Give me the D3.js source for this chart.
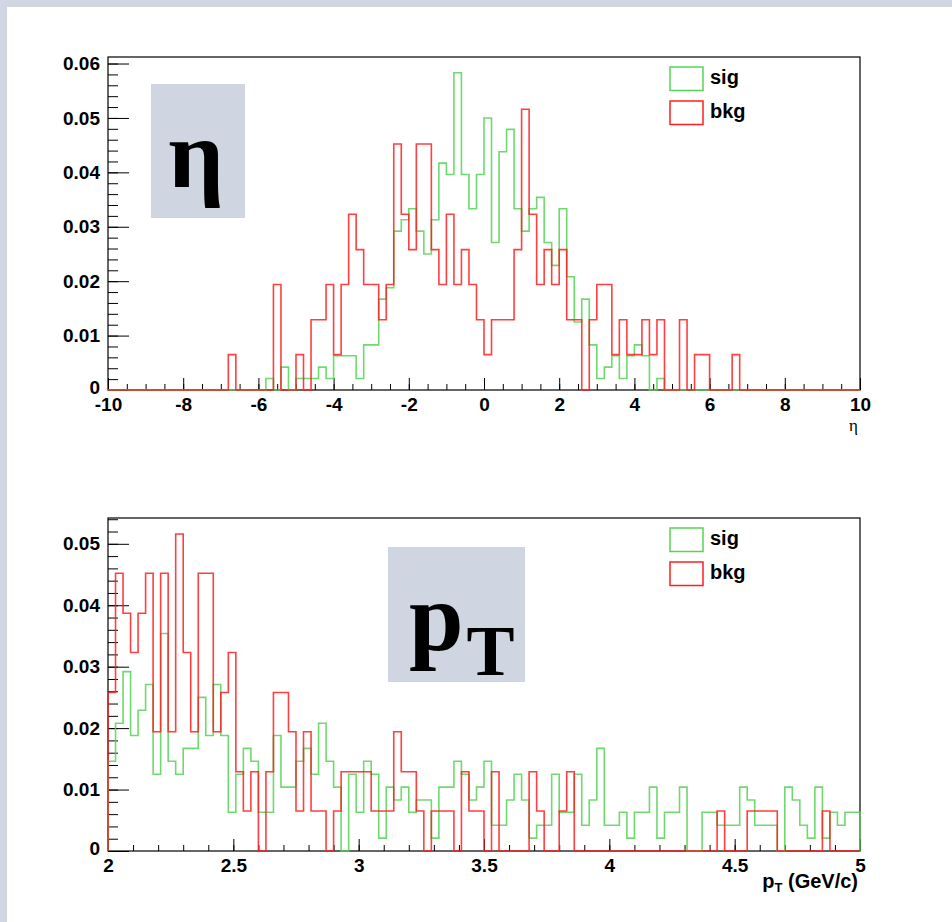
<!DOCTYPE html>
<html>
<head>
  <title>sig / bkg eta and pT</title>
  <script src="https://d3js.org/d3.v7.min.js"></script>
  <style>
    body { margin: 0; background: #fff; }
    text { font-family: "Liberation Sans", Arial, Helvetica, sans-serif; }
  </style>
</head>
<body>
  <div id="chart"></div>
  <script>
    // histogram binning: 100 bins each
    const etaRange = [-10, 10];
    const ptRange = [2, 5];
    const nBins = 100;

    // normalised bin contents
    const etaSig = [
      0, 0, 0, 0, 0, 0, 0, 0, 0, 0,
      0, 0, 0, 0, 0, 0, 0, 0, 0, 0,
      0, 0.0021, 0, 0.0042, 0, 0.0021, 0.0021, 0.0021, 0.0042, 0.0021,
      0.0063, 0.0063, 0.0063, 0.0021, 0.0083, 0.0083, 0.0167, 0.0188, 0.0292, 0.0313,
      0.0333, 0.0292, 0.025, 0.0313, 0.0417, 0.0396, 0.0583, 0.0396, 0.0333, 0.0396,
      0.05, 0.0271, 0.0438, 0.0479, 0.0333, 0.0292, 0.0333, 0.0354, 0.0271, 0.0229,
      0.0333, 0.0208, 0.0125, 0.0167, 0.0083, 0.0021, 0.0042, 0.0063, 0.0021, 0.0063,
      0.0083, 0.0063, 0, 0.0021, 0, 0, 0, 0, 0, 0,
      0, 0, 0, 0, 0, 0, 0, 0, 0, 0,
      0, 0, 0, 0, 0, 0, 0, 0, 0, 0
    ];
    const etaBkg = [
      0, 0, 0, 0, 0, 0, 0, 0, 0, 0,
      0, 0, 0, 0, 0, 0, 0.0065, 0, 0, 0,
      0, 0, 0.0194, 0, 0, 0.0065, 0, 0.0129, 0.0129, 0.0194,
      0.0065, 0.0194, 0.0323, 0.0258, 0.0194, 0.0194, 0.0129, 0.0194, 0.0452, 0.0323,
      0.0258, 0.0452, 0.0452, 0.0258, 0.0194, 0.0323, 0.0194, 0.0258, 0.0194, 0.0129,
      0.0065, 0.0129, 0.0129, 0.0129, 0.0258, 0.0516, 0.0323, 0.0194, 0.0258, 0.0194,
      0.0258, 0.0129, 0.0129, 0, 0.0129, 0.0194, 0.0194, 0.0065, 0.0129, 0.0065,
      0.0065, 0.0129, 0.0065, 0.0129, 0, 0, 0.0129, 0, 0.0065, 0.0065,
      0, 0, 0, 0.0065, 0, 0, 0, 0, 0, 0,
      0, 0, 0, 0, 0, 0, 0, 0, 0, 0
    ];
    const ptSig = [
      0.0146, 0.0208, 0.0292, 0.0188, 0.0229, 0.0271, 0.0125, 0.0354, 0.0146, 0.0125,
      0.0167, 0.0167, 0.025, 0.0188, 0.0271, 0.0188, 0.0063, 0.0125, 0.0167, 0.0146,
      0.0063, 0.0063, 0.0188, 0.0104, 0.0104, 0.0146, 0.0167, 0.0125, 0.0208, 0.0146,
      0.0104, 0, 0.0125, 0.0063, 0.0146, 0.0125, 0.0021, 0.0104, 0.0083, 0.0104,
      0.0063, 0.0083, 0.0083, 0.0021, 0.0104, 0.0104, 0.0146, 0.0125, 0.0083, 0.0104,
      0.0146, 0.0042, 0.0042, 0.0083, 0.0125, 0.0083, 0.0021, 0.0042, 0.0042, 0.0125,
      0.0063, 0.0063, 0.0125, 0.0042, 0.0083, 0.0167, 0.0042, 0.0042, 0.0063, 0.0021,
      0.0063, 0.0063, 0.0104, 0.0021, 0.0063, 0.0063, 0.0104, 0, 0, 0.0063,
      0.0063, 0.0042, 0.0042, 0.0042, 0.0104, 0.0083, 0.0042, 0.0042, 0.0042, 0,
      0.0104, 0.0083, 0.0042, 0.0021, 0.0104, 0.0021, 0.0063, 0.0042, 0.0063, 0.0063
    ];
    const ptBkg = [
      0.0258, 0.0452, 0.0387, 0.0323, 0.0387, 0.0452, 0.0194, 0.0452, 0.0194, 0.0516,
      0.0323, 0.0194, 0.0452, 0.0452, 0.0194, 0.0258, 0.0323, 0.0129, 0.0065, 0.0129,
      0, 0.0129, 0.0258, 0.0258, 0.0194, 0.0065, 0.0194, 0.0065, 0.0065, 0,
      0.0065, 0.0129, 0.0129, 0.0129, 0.0129, 0.0065, 0.0065, 0.0065, 0.0194, 0.0129,
      0.0129, 0.0065, 0, 0.0065, 0.0065, 0.0065, 0, 0.0129, 0.0065, 0.0065,
      0, 0.0129, 0, 0, 0, 0, 0.0129, 0.0065, 0, 0,
      0.0065, 0.0129, 0, 0, 0, 0, 0, 0, 0, 0,
      0, 0, 0, 0, 0, 0, 0, 0, 0, 0,
      0, 0.0065, 0, 0, 0, 0.0065, 0.0065, 0.0065, 0.0065, 0,
      0, 0, 0, 0, 0, 0.0065, 0, 0, 0, 0
    ];

    const etaMajor = [-10, -8, -6, -4, -2, 0, 2, 4, 6, 8, 10];
    const ptMajor = [2, 2.5, 3, 3.5, 4, 4.5, 5];
    const etaYMajor = [0, 0.01, 0.02, 0.03, 0.04, 0.05, 0.06];
    const ptYMajor = [0, 0.01, 0.02, 0.03, 0.04, 0.05];
    const legendLabels = ["sig", "bkg"];
    const colors = { sig: "#55d455", bkg: "#ff1f1f" };

    const width = 952, height = 922;
    const svg = d3.select("#chart").append("svg")
      .attr("width", width)
      .attr("height", height);

    // canvas edge
    svg.append("rect").attr("width", width).attr("height", height).attr("fill", "#d0d7e2");
    svg.append("rect").attr("x", 7).attr("y", 7).attr("width", width - 7).attr("height", height - 7).attr("fill", "#fff");

    function drawPanel(opt) {
      const g = svg.append("g");
      const x = d3.scaleLinear().domain(opt.xRange).range([108, 860]);
      const y = d3.scaleLinear().domain([0, opt.yMax]).range([opt.bottom, opt.top]);

      // big label box
      g.append("rect")
        .attr("x", opt.box[0]).attr("y", opt.box[1])
        .attr("width", opt.box[2]).attr("height", opt.box[3])
        .attr("fill", "#cfd6e1");
      opt.drawLabel(g);

      // minor ticks
      g.append("g")
        .attr("transform", `translate(0,${opt.bottom})`)
        .call(d3.axisBottom(x).ticks(opt.xMinorCount).tickSize(-6).tickFormat(""))
        .call(a => a.select(".domain").remove());
      g.append("g")
        .attr("transform", "translate(108,0)")
        .call(d3.axisLeft(y).tickValues(d3.range(0, opt.yMax, 0.002)).tickSize(-10).tickFormat(""))
        .call(a => a.select(".domain").remove());

      // major ticks + labels
      const xa = g.append("g")
        .attr("transform", `translate(0,${opt.bottom})`)
        .call(d3.axisBottom(x).tickValues(opt.xMajor).tickSize(-12).tickPadding(8).tickFormat(d => String(d)));
      const ya = g.append("g")
        .attr("transform", "translate(108,0)")
        .call(d3.axisLeft(y).tickValues(opt.yMajor).tickSize(-21).tickPadding(8)
          .tickFormat(d => d === 0 ? "0" : d.toFixed(2)));
      [xa, ya].forEach(a => {
        a.select(".domain").remove();
        a.selectAll("text").attr("font-size", 19).attr("font-weight", "bold").attr("fill", "#000")
          .style("font-family", "'Liberation Sans', Arial, Helvetica, sans-serif");
      });
      // lift the y "0" a touch so it clears the x labels
      ya.selectAll("text").filter(d => d === 0).attr("dy", "0.2em");
      g.selectAll(".tick line").attr("stroke", "#000");

      // frame
      g.append("rect")
        .attr("x", 108).attr("y", opt.top)
        .attr("width", 752).attr("height", opt.bottom - opt.top)
        .attr("fill", "none").attr("stroke", "#000").attr("stroke-width", 1.2);

      // histograms
      const binW = (opt.xRange[1] - opt.xRange[0]) / nBins;
      const line = d3.line().x(d => x(d[0])).y(d => y(d[1]));
      function steps(vals) {
        const pts = [[opt.xRange[0], 0]];
        vals.forEach((v, i) => {
          pts.push([opt.xRange[0] + i * binW, v]);
          pts.push([opt.xRange[0] + (i + 1) * binW, v]);
        });
        pts.push([opt.xRange[1], 0]);
        return pts;
      }
      g.append("path").attr("d", line(steps(opt.sig)))
        .attr("fill", "none").attr("stroke", colors.sig).attr("stroke-width", 1.6).attr("stroke-opacity", 0.85);
      g.append("path").attr("d", line(steps(opt.bkg)))
        .attr("fill", "none").attr("stroke", colors.bkg).attr("stroke-width", 1.6).attr("stroke-opacity", 0.85);

      // legend
      legendLabels.forEach((lab, i) => {
        const ly = opt.legendTop + i * 34;
        g.append("rect")
          .attr("x", 670).attr("y", ly).attr("width", 33).attr("height", 23.5)
          .attr("fill", "#fff").attr("stroke", colors[lab]).attr("stroke-width", 1.5);
        g.append("text")
          .attr("x", 710).attr("y", ly + 17)
          .attr("font-size", 20).attr("font-weight", "bold")
          .text(lab);
      });

      opt.drawTitle(g);
    }

    drawPanel({
      xRange: etaRange, yMax: 0.0612, top: 57, bottom: 390,
      sig: etaSig, bkg: etaBkg,
      xMajor: etaMajor, xMinorCount: 40, yMajor: etaYMajor,
      legendTop: 67,
      box: [151, 84, 94, 134],
      drawLabel: g => g.append("text")
        .attr("x", 196).attr("y", 187)
        .attr("text-anchor", "middle")
        .style("font-family", "'Liberation Serif', 'Times New Roman', serif")
        .attr("font-weight", "bold").attr("font-size", 98)
        .text("η"),
      drawTitle: g => g.append("text")
        .attr("x", 858).attr("y", 431)
        .attr("text-anchor", "end")
        .style("font-family", "'Liberation Serif', 'Times New Roman', serif")
        .attr("font-size", 17)
        .text("η")
    });

    drawPanel({
      xRange: ptRange, yMax: 0.0542, top: 518, bottom: 851,
      sig: ptSig, bkg: ptBkg,
      xMajor: ptMajor, xMinorCount: 30, yMajor: ptYMajor,
      legendTop: 528,
      box: [388, 547, 137, 135],
      drawLabel: g => {
        const t = g.append("text")
          .attr("x", 409).attr("y", 650)
          .style("font-family", "'Liberation Serif', 'Times New Roman', serif")
          .attr("font-weight", "bold").attr("font-size", 98);
        t.append("tspan").text("p");
        t.append("tspan").attr("dx", 3).attr("dy", 25).attr("font-size", 72).text("T");
      },
      drawTitle: g => {
        const t = g.append("text")
          .attr("x", 858).attr("y", 888)
          .attr("text-anchor", "end")
          .attr("font-weight", "bold").attr("font-size", 20);
        t.append("tspan").text("p");
        t.append("tspan").attr("dy", 4).attr("font-size", 13).text("T");
        t.append("tspan").attr("dy", -4).text(" (GeV/c)");
      }
    });
  </script>
</body>
</html>
